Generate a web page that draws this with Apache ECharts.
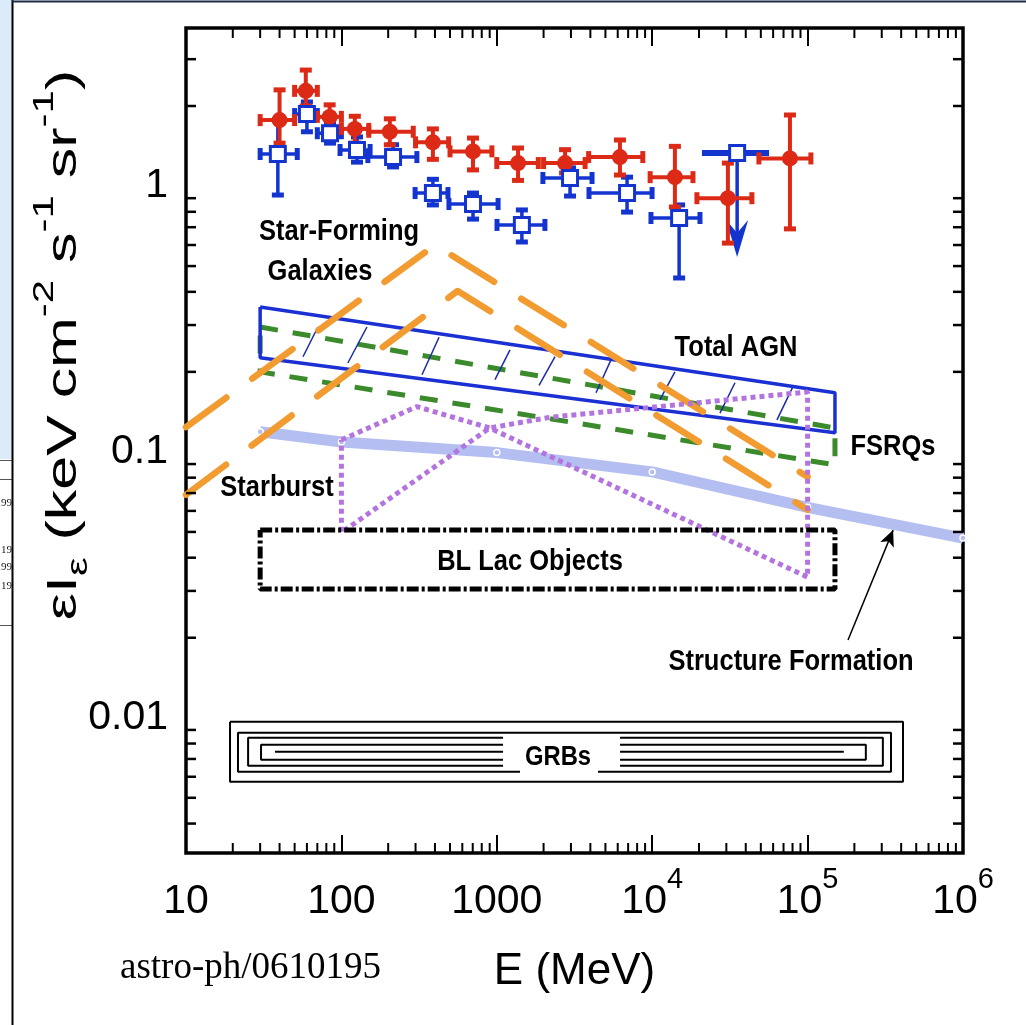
<!DOCTYPE html>
<html><head><meta charset="utf-8">
<script src="https://cdn.jsdelivr.net/npm/echarts@6/dist/echarts.min.js"></script>
<style>html,body{margin:0;padding:0;background:#fff;}#c{width:1026px;height:1025px;}</style>
</head><body><div id="c"></div>
<script>
// ---------------- axis ticks ----------------
const xTickValues = [10, 100, 1000, 1e4, 1e5, 1e6];
const xTickBase   = ['10', '100', '1000', '10', '10', '10'];
const xTickSup    = ['', '', '', '4', '5', '6'];
const yTickValues = [0.01, 0.1, 1];
const yTickText   = ['0.01', '0.1', '1'];
const xMin = 10, xMax = 1e6, yMin = 0.0031, yMax = 3.93;

// ---------------- EGRET (red, filled circles) ----------------
const redE   = [40, 59, 84, 122, 205, 388, 703, 1370, 2750, 6200, 14000, 30700, 77000];
const redElo = [30, 50, 70, 100, 150, 300, 500, 1000, 2000, 3900, 9700, 19400, 48600];
const redEhi = [50, 70, 100, 150, 290, 490, 930, 1850, 3700, 8700, 18300, 43800, 105000];
const redF   = [1.77, 2.28, 1.82, 1.64, 1.60, 1.46, 1.35, 1.22, 1.22, 1.285, 1.08, 0.90, 1.27];
const redFlo = [1.45, 2.00, 1.65, 1.45, 1.43, 1.26, 1.15, 1.05, 1.12, 1.10, 0.834, 0.61, 0.69];
const redFhi = [2.30, 2.73, 2.02, 1.83, 1.79, 1.64, 1.515, 1.39, 1.37, 1.49, 1.41, 1.22, 1.85];

// ---------------- re-analysis (blue, open squares) ----------------
const blueE   = [39, 60, 84.5, 126, 215, 388, 703, 1450, 2960, 6890, 14900];
const blueElo = [30, 50, 70, 98, 148, 298, 492, 1003, 1980, 3920, 9820];
const blueEhi = [52, 70, 100, 153, 306, 485, 1019, 2040, 4100, 9980, 20300];
const blueF   = [1.32, 1.865, 1.58, 1.366, 1.285, 0.941, 0.856, 0.714, 1.072, 0.941, 0.758];
const blueFlo = [0.925, 1.60, 1.45, 1.23, 1.18, 0.849, 0.751, 0.616, 0.917, 0.798, 0.451];
const blueFhi = [1.77, 2.07, 1.72, 1.53, 1.43, 1.06, 0.941, 0.813, 1.17, 1.08, 0.849];
// upper limit
const ulE = [35200], ulElo = [20900], ulEhi = [56500], ulF = [1.33], ulFtip = [0.541];

// ---------------- model bands ----------------
const agnE  = [30, 150000, 150000, 30, 30];
const agnF  = [0.351, 0.167, 0.118, 0.226, 0.351];
const hatchE0 = [56.6, 110, 330, 973, 1870, 4350, 11200, 27300, 63500];
const hatchF0 = [0.228, 0.216, 0.195, 0.187, 0.178, 0.167, 0.157, 0.140, 0.132];
const hatchE1 = [70.6, 146, 425, 1216, 2370, 5430, 14000, 34100, 80500];
const hatchF1 = [0.295, 0.295, 0.270, 0.242, 0.228, 0.222, 0.200, 0.182, 0.176];
const fsrqE = [30, 150000, 150000, 30, 30];
const fsrqF = [0.295, 0.123, 0.0894, 0.200, 0.295];
const sfgUpE = [10, 400, 100000];
const sfgUpF = [0.124, 0.60, 0.0806];
const sfgLoE = [10, 560, 100000];
const sfgLoF = [0.069, 0.403, 0.0606];
const sbE = [100, 306, 900, 100000, 100000, 2200, 900, 100, 100];
const sbF = [0.111, 0.148, 0.123, 0.0338, 0.168, 0.135, 0.123, 0.0497, 0.111];
const sfE = [30, 100, 1000, 1e4, 1e5, 1e6];
const sfF = [0.119, 0.109, 0.0994, 0.0841, 0.0619, 0.0474];
const blLacE = [30, 150000, 150000, 30, 30];
const blLacF = [0.0508, 0.0508, 0.0305, 0.0305, 0.0508];
const grbE = [19.2, 411000, 411000, 19.2, 19.2, null,
              1410, 21.6, 21.6, 344000, 344000, 4480, null,
              1097, 25.1, 25.1, 1097, null,
              6210, 305000, 305000, 6210, null,
              1097, 30.4, 30.4, 1097, null,
              6210, 237000, 237000, 6210, null,
              37.4, 1097, null, 6210, 171000];
const grbF = [0.00966, 0.00966, 0.00574, 0.00574, 0.00966, null,
              0.00627, 0.00627, 0.00879, 0.00879, 0.00627, 0.00627, null,
              0.00841, 0.00841, 0.00660, 0.00660, null,
              0.00841, 0.00841, 0.00660, 0.00660, null,
              0.00791, 0.00791, 0.00695, 0.00695, null,
              0.00791, 0.00791, 0.00695, 0.00695, null,
              0.00745, 0.00745, null, 0.00745, 0.00745];
const arrowE = [182000, 355000];
const arrowF = [0.0196, 0.0508];

// ---------------- styling ----------------
const NF = "'Liberation Sans',Arial,sans-serif";
const SF = "'Liberation Sans',Arial,sans-serif";
const RED = '#dc2a16', BLUE = '#1434d0', AGN = '#1b30d2', GREEN = '#3b8a2c',
      ORANGE = '#f29b30', PURPLE = '#b474e0', LAV = '#b4bef0';

const pairs = (E, F) => E.map((e, i) => (e === null ? ['-', '-'] : [e, F[i]]));
function minorTicks(d0, d1) { const o = []; for (let d = d0; d < d1; d++) for (let m = 2; m <= 9; m++) o.push(m * Math.pow(10, d)); return o; }
const xMinor = minorTicks(1, 6);
const yMinor = minorTicks(-3, 1).filter(v => v > yMin && v < yMax);
const near = (a, b) => Math.abs(Math.log10(a) - Math.log10(b)) < 1e-6;

function lineSeries(E, F, color, width, type, z, extra) {
  return Object.assign({ type: 'line', data: pairs(E, F), showSymbol: false, symbol: 'none', silent: true,
    connectNulls: false, z: z, lineStyle: { color: color, width: width, type: type } }, extra || {});
}

function errSeries(E, Elo, Ehi, F, Flo, Fhi, color, lw, z) {
  return { type: 'custom', coordinateSystem: 'cartesian2d', silent: true, z: z, clip: false,
    data: E.map((e, i) => [e, F[i], Elo[i], Ehi[i], Flo[i], Fhi[i]]),
    encode: { x: [0, 2, 3], y: [1, 4, 5] },
    renderItem: (params, api) => {
      const c = api.coord([api.value(0), api.value(1)]);
      const l = api.coord([api.value(2), api.value(1)]);
      const r = api.coord([api.value(3), api.value(1)]);
      const b = api.coord([api.value(0), api.value(4)]);
      const t = api.coord([api.value(0), api.value(5)]);
      const st = { stroke: color, lineWidth: lw };
      const cap = 12, ct = 5;
      return { type: 'group', children: [
        { type: 'line', shape: { x1: l[0], y1: c[1], x2: r[0], y2: c[1] }, style: st },
        { type: 'line', shape: { x1: c[0], y1: b[1], x2: c[0], y2: t[1] }, style: st },
        { type: 'rect', shape: { x: l[0] - ct / 2, y: c[1] - cap / 2, width: ct, height: cap }, style: { fill: color } },
        { type: 'rect', shape: { x: r[0] - ct / 2, y: c[1] - cap / 2, width: ct, height: cap }, style: { fill: color } },
        { type: 'rect', shape: { x: c[0] - cap / 2, y: b[1] - ct / 2, width: cap, height: ct }, style: { fill: color } },
        { type: 'rect', shape: { x: c[0] - cap / 2, y: t[1] - ct / 2, width: cap, height: ct }, style: { fill: color } }
      ] };
    } };
}

const labelStyle = (txt, x, y, size) => ({ type: 'text', x: x, y: y, scaleX: 0.85, z: 50,
  style: { text: txt, font: 'bold ' + (size || 30) + 'px ' + SF, fill: '#000', align: 'center', verticalAlign: 'middle' } });

const option = {
  animation: false,
  backgroundColor: '#fff',
  grid: { left: 186, right: 63, top: 28, bottom: 172, show: true, borderColor: '#000', borderWidth: 3.5, backgroundColor: 'rgba(0,0,0,0)' },
  xAxis: [
    { type: 'log', logBase: 10, min: xMin, max: xMax, splitNumber: 5,
      axisLine: { show: false }, splitLine: { show: false },
      axisTick: { show: true, inside: true, length: 18, lineStyle: { color: '#000', width: 2 } },
      axisLabel: { margin: 12, hideOverlap: false, showMinLabel: true, showMaxLabel: true,
        formatter: v => { const i = xTickValues.findIndex(t => near(t, v)); if (i < 0) return '';
          return '{a|' + xTickBase[i] + '}' + (xTickSup[i] ? '{s|' + xTickSup[i] + '}' : ''); },
        rich: { a: { fontSize: 41, fontFamily: NF, color: '#000', padding: [16, 0, 0, 0] },
                s: { fontSize: 29, fontFamily: NF, color: '#000', verticalAlign: 'top' } } },
      name: 'E (MeV)', nameLocation: 'middle', nameGap: 97,
      nameTextStyle: { fontSize: 44, fontFamily: NF, color: '#000' } },
    { type: 'log', logBase: 10, min: xMin, max: xMax, splitNumber: 5, position: 'top',
      axisLine: { show: false }, splitLine: { show: false }, axisLabel: { show: false },
      axisTick: { show: true, inside: true, length: 18, lineStyle: { color: '#000', width: 2 } } }
  ],
  yAxis: [
    { type: 'log', logBase: 10, min: yMin, max: yMax,
      axisLine: { show: false }, splitLine: { show: false }, axisTick: { show: false },
      axisLabel: { margin: 18, hideOverlap: false,
        formatter: v => { const i = yTickValues.findIndex(t => near(t, v)); return i < 0 ? '' : '{a|' + yTickText[i] + '}'; },
        rich: { a: { fontSize: 41, fontFamily: NF, color: '#000' } } } }
  ],
  graphic: [
    { type: 'rect', shape: { x: 0, y: 0, width: 12, height: 459 }, style: { fill: '#dcebfa' }, z: -10 },
    { type: 'line', shape: { x1: 0, y1: 460.5, x2: 12, y2: 460.5 }, style: { stroke: '#555', lineWidth: 1 } },
    { type: 'line', shape: { x1: 0, y1: 479.5, x2: 12, y2: 479.5 }, style: { stroke: '#555', lineWidth: 1 } },
    { type: 'line', shape: { x1: 0, y1: 625.5, x2: 12, y2: 625.5 }, style: { stroke: '#555', lineWidth: 1 } },
    { type: 'text', x: 12, y: 503, style: { text: '.199', font: '11px "Liberation Serif"', fill: '#222', align: 'right', verticalAlign: 'middle' } },
    { type: 'text', x: 12, y: 550, style: { text: '19', font: '11px "Liberation Serif"', fill: '#222', align: 'right', verticalAlign: 'middle' } },
    { type: 'text', x: 12, y: 567, style: { text: '199', font: '11px "Liberation Serif"', fill: '#222', align: 'right', verticalAlign: 'middle' } },
    { type: 'text', x: 12, y: 586, style: { text: '19', font: '11px "Liberation Serif"', fill: '#222', align: 'right', verticalAlign: 'middle' } },
    { type: 'line', shape: { x1: 12.5, y1: 0, x2: 12.5, y2: 1025 }, style: { stroke: '#000', lineWidth: 2 } },
    { type: 'line', shape: { x1: 12, y1: 1.5, x2: 1026, y2: 1.5 }, style: { stroke: '#1b2b44', lineWidth: 2 } },
    { type: 'text', x: 62, y: 345, rotation: Math.PI / 2, scaleX: 1.05, scaleY: 0.72,
      style: { text: '{m|εI}{sub|ε}{m| (keV cm}{sup|-2}{m| s}{sup|-1}{m| sr}{sup|-1}{m|)}',
        align: 'center', verticalAlign: 'middle', fill: '#000',
        rich: { m: { fontSize: 58, fontFamily: SF, fill: '#000', padding: [18, 0, 10, 0] },
                sub: { fontSize: 40, fontFamily: SF, fill: '#000', verticalAlign: 'bottom' },
                sup: { fontSize: 40, fontFamily: SF, fill: '#000', verticalAlign: 'top' } } } },
    { type: 'text', x: 120, y: 968, style: { text: 'astro-ph/0610195', font: '37px "Liberation Serif"', fill: '#000', align: 'left', verticalAlign: 'middle' } },
    labelStyle('Star-Forming', 339, 232),
    labelStyle('Galaxies', 320, 272),
    labelStyle('Total AGN', 736, 348),
    labelStyle('FSRQs', 893, 447),
    labelStyle('Starburst', 277, 488),
    labelStyle('BL Lac Objects', 530, 562),
    labelStyle('GRBs', 558, 757, 28),
    labelStyle('Structure Formation', 791, 662)
  ],
  series: [
    // minor ticks (x: bottom & top)
    { type: 'custom', coordinateSystem: 'cartesian2d', silent: true, clip: false, z: 30,
      data: xMinor.map(v => [v, 1]), encode: { x: 0, y: 1 },
      renderItem: (params, api) => { const cs = params.coordSys; const px = api.coord([api.value(0), 1])[0];
        return { type: 'group', children: [
          { type: 'line', shape: { x1: px, y1: cs.y + cs.height, x2: px, y2: cs.y + cs.height - 10 }, style: { stroke: '#000', lineWidth: 2 } },
          { type: 'line', shape: { x1: px, y1: cs.y, x2: px, y2: cs.y + 10 }, style: { stroke: '#000', lineWidth: 2 } } ] }; } },
    // minor ticks (y: left & right)
    { type: 'custom', coordinateSystem: 'cartesian2d', silent: true, clip: false, z: 30,
      data: yMinor.map(v => [10, v]), encode: { x: 0, y: 1 },
      renderItem: (params, api) => { const cs = params.coordSys; const py = api.coord([10, api.value(1)])[1];
        return { type: 'group', children: [
          { type: 'line', shape: { x1: cs.x, y1: py, x2: cs.x + 10, y2: py }, style: { stroke: '#000', lineWidth: 2.5 } },
          { type: 'line', shape: { x1: cs.x + cs.width, y1: py, x2: cs.x + cs.width - 10, y2: py }, style: { stroke: '#000', lineWidth: 2.5 } } ] }; } },

    // structure formation
    lineSeries(sfE, sfF, LAV, 11, 'solid', 2, { showSymbol: true, symbol: 'circle', symbolSize: 6,
      itemStyle: { color: LAV, borderColor: '#fff', borderWidth: 1.5, opacity: 1 }, lineStyle: { color: LAV, width: 11, cap: 'butt' } }),
    // FSRQs
    lineSeries(fsrqE, fsrqF, GREEN, 5, [18, 15], 3),
    // Total AGN
    lineSeries(agnE, agnF, AGN, 3.5, 'solid', 4),
    { type: 'custom', coordinateSystem: 'cartesian2d', silent: true, z: 4,
      data: hatchE0.map((e, i) => [e, hatchF0[i], hatchE1[i], hatchF1[i]]), encode: { x: [0, 2], y: [1, 3] },
      renderItem: (params, api) => { const a = api.coord([api.value(0), api.value(1)]); const b = api.coord([api.value(2), api.value(3)]);
        return { type: 'line', shape: { x1: a[0], y1: a[1], x2: b[0], y2: b[1] }, style: { stroke: '#1a2aa8', lineWidth: 1.5 } }; } },
    // star-forming galaxies
    lineSeries(sfgUpE, sfgUpF, ORANGE, 6.5, [50, 32], 5, { lineStyle: { color: ORANGE, width: 6.5, type: [50, 32], cap: 'round', join: 'round' } }),
    lineSeries(sfgLoE, sfgLoF, ORANGE, 6.5, [50, 32], 5, { lineStyle: { color: ORANGE, width: 6.5, type: [50, 32], cap: 'round', join: 'round' } }),
    // starburst (purple dotted)
    lineSeries(sbE, sbF, PURPLE, 5, [5, 4], 6),
    // BL Lac
    lineSeries(blLacE, blLacF, '#000', 5, [12, 3, 3, 3], 6),
    // GRBs
    lineSeries(grbE, grbF, '#000', 2, 'solid', 6),
    // arrow
    { type: 'line', data: [], silent: true, z: 7,
      markLine: { silent: true, symbol: ['none', 'arrow'], symbolSize: [11, 16], animation: false,
        lineStyle: { color: '#000', width: 1.5, type: 'solid' }, label: { show: false },
        data: [[{ coord: [arrowE[0], arrowF[0]] }, { coord: [arrowE[1], arrowF[1]] }]] } },

    // data: blue bars, red bars, markers
    errSeries(blueE, blueElo, blueEhi, blueF, blueFlo, blueFhi, BLUE, 3.5, 20),
    { type: 'custom', coordinateSystem: 'cartesian2d', silent: true, z: 20, clip: false,
      data: ulE.map((e, i) => [e, ulF[i], ulElo[i], ulEhi[i], ulFtip[i]]), encode: { x: [0, 2, 3], y: [1, 4] },
      renderItem: (params, api) => {
        const c = api.coord([api.value(0), api.value(1)]);
        const l = api.coord([api.value(2), api.value(1)]);
        const r = api.coord([api.value(3), api.value(1)]);
        const t = api.coord([api.value(0), api.value(4)]);
        return { type: 'group', children: [
          { type: 'line', shape: { x1: l[0], y1: c[1], x2: r[0], y2: c[1] }, style: { stroke: BLUE, lineWidth: 6 } },
          { type: 'line', shape: { x1: c[0], y1: c[1], x2: c[0], y2: t[1] - 20 }, style: { stroke: BLUE, lineWidth: 3.5 } },
          { type: 'polygon', shape: { points: [[c[0] - 11, t[1] - 37], [c[0], t[1] - 24], [c[0] + 11, t[1] - 37], [c[0], t[1]]] }, style: { fill: BLUE } }
        ] };
      } },
    errSeries(redE, redElo, redEhi, redF, redFlo, redFhi, RED, 4, 21),
    { type: 'scatter', silent: true, z: 22, symbol: 'circle', symbolSize: 16, itemStyle: { color: RED, opacity: 1 },
      data: redE.map((e, i) => [e, redF[i]]) },
    { type: 'scatter', silent: true, z: 23, symbol: 'rect', symbolSize: 15, itemStyle: { color: '#fff', borderColor: BLUE, borderWidth: 3, opacity: 1 },
      data: blueE.map((e, i) => [e, blueF[i]]).concat(ulE.map((e, i) => [e, ulF[i]])) }
  ]
};

const chart = echarts.init(document.getElementById('c'), null, { renderer: 'canvas', width: 1026, height: 1025 });
chart.setOption(option);
</script>
</body></html>
